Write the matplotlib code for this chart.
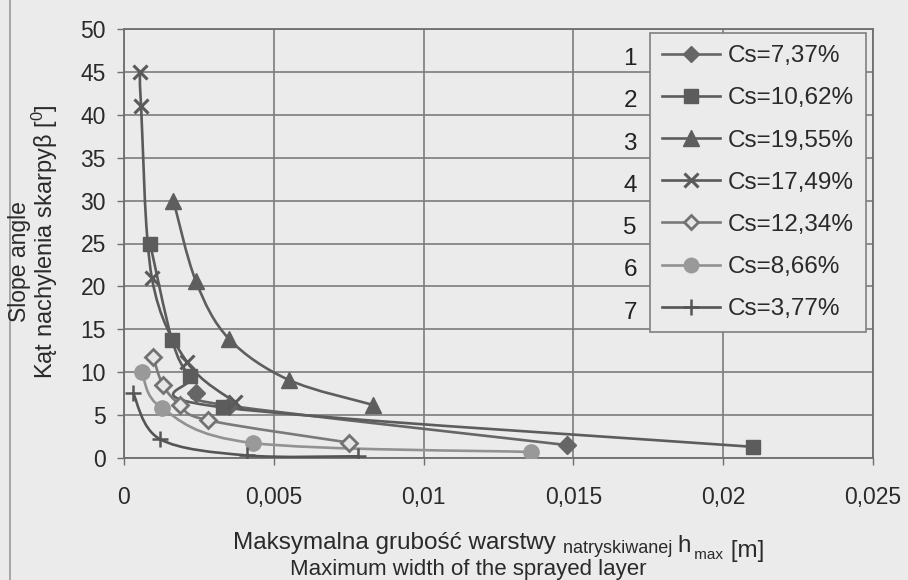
import numpy as np
import matplotlib
matplotlib.use("Agg")
import matplotlib.pyplot as plt
from matplotlib.path import Path
from matplotlib.patches import PathPatch
from matplotlib.lines import Line2D

plt.rcParams['font.family'] = ['Liberation Sans', 'DejaVu Sans']

# ---- data: maximum sprayed-layer thickness h_max [m] vs slope angle [deg] ----
labels = ["Cs=7,37%", "Cs=10,62%", "Cs=19,55%", "Cs=17,49%",
          "Cs=12,34%", "Cs=8,66%", "Cs=3,77%"]

h1 = [0.0024, 0.0035, 0.0148]
a1 = [7.6, 6.1, 1.5]

h2 = [0.00087, 0.0016, 0.0022, 0.0033, 0.0210]
a2 = [25.0, 13.8, 9.5, 5.9, 1.3]

h3 = [0.00165, 0.0024, 0.0035, 0.0055, 0.0083]
a3 = [30.0, 20.6, 13.9, 9.1, 6.2]

h4 = [0.00053, 0.00057, 0.00093, 0.0021, 0.0037]
a4 = [45.0, 41.0, 21.0, 11.2, 6.5]

h5 = [0.00097, 0.0013, 0.00187, 0.0028, 0.0075]
a5 = [11.8, 8.5, 6.2, 4.4, 1.8]

h6 = [0.0006, 0.00127, 0.0043, 0.0136]
a6 = [10.0, 5.8, 1.75, 0.7]

h7 = [0.0003, 0.0012, 0.0041, 0.0078]
a7 = [7.6, 2.2, 0.3, 0.2]

x_ticks = [0, 0.005, 0.01, 0.015, 0.02, 0.025]
x_ticklabels = ["0", "0,005", "0,01", "0,015", "0,02", "0,025"]
y_ticks = [0, 5, 10, 15, 20, 25, 30, 35, 40, 45, 50]

series = [
    (h1, a1, dict(marker='D', color='#666666', mfc='#666666', mec='#666666', ms=9)),
    (h2, a2, dict(marker='s', color='#5c5c5c', mfc='#5c5c5c', mec='#5c5c5c', ms=10.5)),
    (h3, a3, dict(marker='^', color='#5e5e5e', mfc='#5e5e5e', mec='#5e5e5e', ms=11.5)),
    (h4, a4, dict(marker='x', color='#5a5a5a', mfc='#5a5a5a', mec='#5a5a5a', ms=10, mew=2.2)),
    (h5, a5, dict(marker='D', color='#7a7a7a', mfc='#e6e6e6', mec='#727272', ms=8, mew=2.0)),
    (h6, a6, dict(marker='o', color='#929292', mfc='#999999', mec='#999999', ms=11)),
    (h7, a7, dict(marker='+', color='#555555', mfc='#555555', mec='#555555', ms=12, mew=1.8)),
]

BG = '#ebebeb'
TXT = '#2a2a2a'
W, H = 908, 580
fig = plt.figure(figsize=(W / 100, H / 100), dpi=100, facecolor=BG)
ax = fig.add_axes([124 / W, 1 - 458 / H, (873 - 124) / W, (458 - 29) / H])
ax.set_facecolor(BG)


def smooth_path(xs, ys):
    """Cubic Bezier path through the points (Catmull-Rom style smoothing)."""
    pts = np.column_stack([xs, ys]).astype(float)
    n = len(pts)
    verts = [pts[0]]
    codes = [Path.MOVETO]
    for i in range(n - 1):
        p0 = pts[i - 1] if i > 0 else pts[i]
        p1 = pts[i]
        p2 = pts[i + 1]
        p3 = pts[i + 2] if i + 2 < n else pts[i + 1]
        c1 = p1 + (p2 - p0) / 6.0
        c2 = p2 - (p3 - p1) / 6.0
        verts += [c1, c2, p2]
        codes += [Path.CURVE4] * 3
    return Path(verts, codes)


handles = []
for xs, ys, st in series:
    ax.add_patch(PathPatch(smooth_path(xs, ys), facecolor='none',
                           edgecolor=st['color'], lw=1.9, zorder=3))
    ax.plot(xs, ys, linestyle='none', marker=st['marker'], ms=st['ms'],
            mfc=st['mfc'], mec=st['mec'], mew=st.get('mew', 1.0), zorder=4)
    handles.append(Line2D([], [], color=st['color'], lw=1.9, marker=st['marker'],
                          ms=st['ms'] * 0.95, mfc=st['mfc'], mec=st['mec'],
                          mew=st.get('mew', 1.0)))

ax.set_xlim(0, 0.025)
ax.set_ylim(0, 50)
ax.set_xticks(x_ticks)
ax.set_xticklabels(x_ticklabels)
ax.set_yticks(y_ticks)
ax.grid(True, color='#7c7c7c', lw=1.2)
ax.set_axisbelow(True)
for sp in ax.spines.values():
    sp.set_color('#6e6e6e')
    sp.set_linewidth(1.3)
ax.tick_params(axis='both', direction='out', length=5, width=1.0, color='#6e6e6e',
               labelsize=16.5, labelcolor=TXT)
ax.tick_params(axis='x', pad=15)
ax.tick_params(axis='y', pad=8)

leg = ax.legend(handles, labels, loc='upper left',
                bbox_to_anchor=(650 / W, 1 - 33 / H), bbox_transform=fig.transFigure,
                fontsize=17.5, frameon=True, fancybox=False, framealpha=1.0,
                facecolor=BG, edgecolor='#808080', handlelength=2.4,
                handletextpad=0.28, labelspacing=0.83, borderpad=0.5,
                borderaxespad=0)
leg.get_frame().set_linewidth(1.2)
for t in leg.get_texts():
    t.set_color(TXT)

# row numbers beside the legend
for i in range(7):
    yp = 59 + i * 42.3
    fig.text(637 / W, 1 - yp / H, str(i + 1), ha='right', va='center',
             fontsize=17.5, color='#222222')

# axis titles
fig.text(20 / W, 1 - 262 / H, "Slope angle", rotation=90, ha='center',
         va='center', fontsize=16.5, color=TXT)
fig.text(45 / W, 1 - 242 / H, "Kąt nachylenia skarpyβ [$\\mathregular{^0}$]",
         rotation=90, ha='center', va='center', fontsize=17, color=TXT)

# first line of the x title, built from pieces of different size
t1 = fig.text(233 / W, 1 - 549 / H, "Maksymalna grubość warstwy ",
              ha='left', va='baseline', fontsize=17.5, color=TXT)
pieces = [("natryskiwanej ", 13, -2), ("h", 17.5, 0), (" max", 11, -4), (" [m]", 17.5, 0)]
prev = t1
for txt, fs, dy in pieces:
    prev = plt.annotate(txt, xy=(1, 0), xycoords=prev, xytext=(0, dy),
                        textcoords='offset points', ha='left', va='bottom',
                        fontsize=fs, color=TXT, annotation_clip=False)
fig.text(468 / W, 1 - 575 / H, "Maximum width of the sprayed layer",
         ha='center', va='baseline', fontsize=16, color=TXT)

# scan border on the left side
fig.add_artist(Line2D([10 / W, 10 / W], [0, 1], transform=fig.transFigure,
                      color='#9a9a9a', lw=1.2))

fig.savefig("out.png", dpi=100, facecolor=BG)
